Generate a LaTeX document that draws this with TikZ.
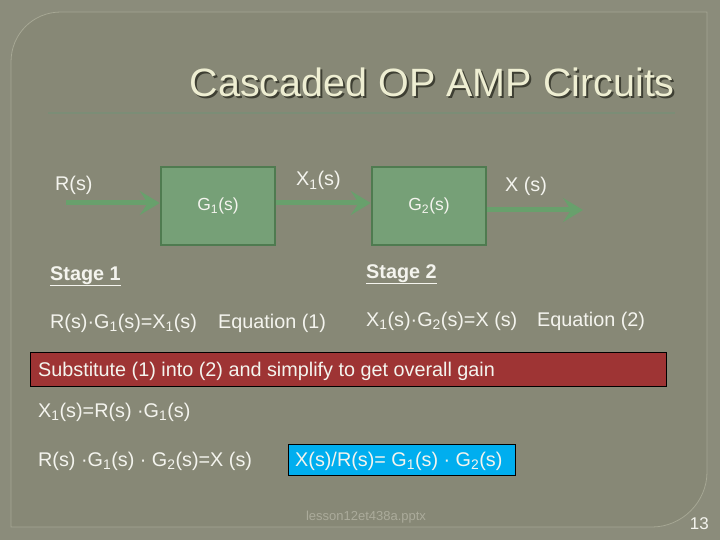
\documentclass[tikz,border=0pt]{standalone}
\usepackage{fontspec}
\setmainfont{Liberation Sans}
\usetikzlibrary{arrows.meta,positioning}
\definecolor{slidebg}{HTML}{8B8C7B}
\definecolor{panelbg}{HTML}{878876}
\definecolor{panelline}{HTML}{A6A794}
\definecolor{titletext}{HTML}{EEEED2}
\definecolor{titleshade}{HTML}{3E3F33}
\definecolor{ruleline}{HTML}{7B8D76}
\definecolor{blockfill}{HTML}{76A077}
\definecolor{blockline}{HTML}{4F7B50}
\definecolor{flowgreen}{HTML}{68A06C}
\definecolor{bodytext}{HTML}{F4F4EE}
\definecolor{bannerred}{HTML}{9E3434}
\definecolor{resultblue}{HTML}{00AEEF}
\definecolor{footertext}{HTML}{ABAB9B}
\newcommand{\shadedtitle}[1]{\makebox[0pt][l]{\hspace{2pt}\raisebox{-2pt}{\textcolor{titleshade}{#1}}}#1}

\begin{document}
\begin{tikzpicture}[x=1pt,y=-1pt,>=Latex]
\tikzstyle{txt}=[inner sep=0pt,anchor=base west,text=bodytext,font=\fontsize{19.8}{23}\selectfont]
\tikzstyle{block}=[draw=blockline,line width=2.5pt,fill=blockfill,minimum width=114pt,minimum height=78pt,text=bodytext,font=\fontsize{17.5}{21}\selectfont]
\tikzstyle{flow}=[line width=5pt,draw=flowgreen,fill=flowgreen,-{Stealth[length=20pt,width=24pt,inset=8pt]}]
% slide background
\fill[slidebg] (0,0) rectangle (720,540);
\filldraw[fill=panelbg,draw=panelline,line width=0.8pt] (11,62) .. controls (11,34) and (33,12) .. (61,12) -- (707,12) -- (707,472) .. controls (707,502) and (682,527) .. (652,527) -- (11,527) -- cycle;
\useasboundingbox (0,0) rectangle (720,540);
% title
\node[inner sep=0pt,anchor=base east,text=titletext,font=\fontsize{39.5}{46}\selectfont] (title) at (675,97) {\shadedtitle{Cascaded OP AMP Circuits}};
\draw[ruleline,line width=2pt] (48,113) -- (675,113);
% block diagram
\node[block] (g1) at (218,206) {G\textsubscript{1}(s)};
\node[block] (g2) at (429,206) {G\textsubscript{2}(s)};
\coordinate (rin) at (66,203);
\coordinate (xout) at (583,210);
\draw[flow] (rin) -- (rin -| g1.west);
\draw[flow] (g1.east |- rin) -- (rin -| g2.west);
\draw[flow] (g2.east |- xout) -- (xout);
\node[txt] (rlab) at (55,191) {R(s)};
\node[txt] (x1lab) at (296,186) {X\textsubscript{1}(s)};
\node[txt] (xlab) at (505,192) {X (s)};
% stage equations
\node[txt] (stage1) at (50,280) {\underline{\textbf{Stage 1}}};
\node[txt] (stage2) at (366,278) {\underline{\textbf{Stage 2}}};
\node[txt] (eq1) at (50,328) {R(s)·G\textsubscript{1}(s)=X\textsubscript{1}(s)};
\node[txt] (eq1tag) at (218,328) {Equation (1)};
\node[txt] (eq2) at (366,326) {X\textsubscript{1}(s)·G\textsubscript{2}(s)=X (s)};
\node[txt] (eq2tag) at (537,326) {Equation (2)};
% substitution
\node[draw=black,line width=1pt,fill=bannerred,minimum width=636pt,minimum height=34pt,anchor=north west] (banner) at (30,352) {};
\node[txt] (subst) at (38,376) {Substitute (1) into (2) and simplify to get overall gain};
\node[txt] (x1def) at (38,417) {X\textsubscript{1}(s)=R(s) ·G\textsubscript{1}(s)};
\node[txt] (chain) at (38,466) {R(s) ·G\textsubscript{1}(s) · G\textsubscript{2}(s)=X (s)};
\node[draw=black,line width=1pt,fill=resultblue,minimum width=227pt,minimum height=31pt,anchor=north west] (result) at (288,444) {};
\node[txt] (gain) at (295,466) {X(s)/R(s)= G\textsubscript{1}(s) · G\textsubscript{2}(s)};
% footer
\node[inner sep=0pt,anchor=base,text=footertext,font=\fontsize{13}{15}\selectfont] (footer) at (366,520) {lesson12et438a.pptx};
\node[inner sep=0pt,anchor=base east,text=bodytext,font=\fontsize{17}{20}\selectfont] (pagenum) at (709,529) {13};
\end{tikzpicture}
\end{document}
